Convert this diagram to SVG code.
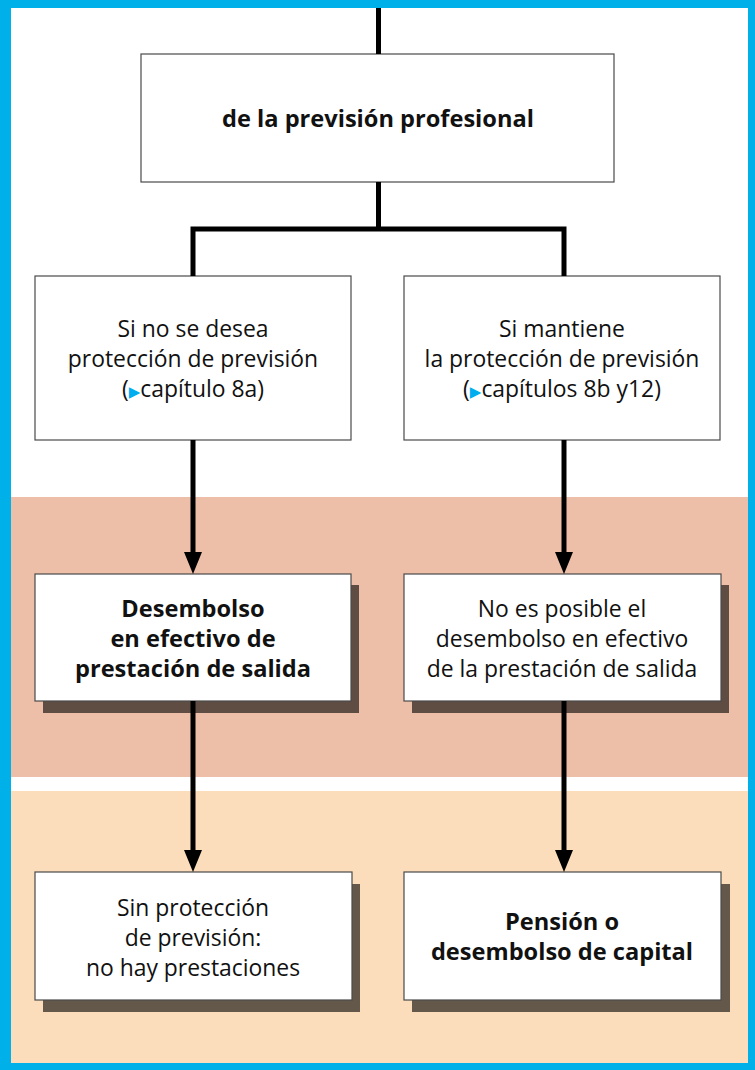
<svg xmlns="http://www.w3.org/2000/svg" width="755" height="1070" viewBox="0 0 755 1070">
<style>
.box{fill:#fff;stroke:#4a4a4a;stroke-width:1.2}
.sh{fill:#000;fill-opacity:0.6}
.t{font-family:"Open Sans","Noto Sans","Liberation Sans",sans-serif;font-size:22.9px;fill:#111;text-anchor:middle}
.b{font-weight:bold;font-size:23.6px}
.con{fill:none;stroke:#000;stroke-width:5;stroke-linejoin:miter}
.tri{fill:#00aeef;font-family:"DejaVu Sans",sans-serif;font-size:15px}
</style>
<defs>
<marker id="ah" markerUnits="userSpaceOnUse" markerWidth="22" markerHeight="18" viewBox="0 0 22 18" refX="14" refY="9" orient="auto">
<path d="M0,0 L22,9 L0,18 z" fill="#000"/>
</marker>
</defs>
<rect x="0" y="0" width="755" height="1070" fill="#fff"/>
<rect x="11" y="497" width="737" height="280" fill="#eebfa8"/>
<rect x="11" y="791" width="737" height="273" fill="#fbddbb"/>
<g id="frame" fill="#00b0e8">
<rect x="0" y="0" width="755" height="8"/>
<rect x="0" y="0" width="11" height="1070"/>
<rect x="748" y="0" width="7" height="1070"/>
<rect x="0" y="1063" width="755" height="7"/>
</g>
<g id="n-top">
<rect class="box" x="141" y="54" width="473" height="128"/>
<text class="t b" x="378" y="127">de la previsión profesional</text>
</g>
<g id="n-left1">
<rect class="box" x="35" y="276" width="316" height="164"/>
<text class="t" x="193" y="337">Si no se desea</text>
<text class="t" x="193" y="367">protección de previsión</text>
<text class="t" x="193" y="397">(<tspan class="tri">▶</tspan>capítulo 8a)</text>
</g>
<g id="n-right1">
<rect class="box" x="404" y="276" width="316" height="164"/>
<text class="t" x="562" y="337">Si mantiene</text>
<text class="t" x="562" y="367">la protección de previsión</text>
<text class="t" x="562" y="397">(<tspan class="tri">▶</tspan>capítulos 8b y12)</text>
</g>
<g id="n-left2">
<rect class="sh" x="43" y="585" width="316" height="128"/>
<rect class="box" x="35" y="574" width="316" height="127"/>
<text class="t b" x="193" y="617">Desembolso</text>
<text class="t b" x="193" y="647">en efectivo de</text>
<text class="t b" x="193" y="677">prestación de salida</text>
</g>
<g id="n-right2">
<rect class="sh" x="412" y="585" width="317" height="128"/>
<rect class="box" x="404" y="574" width="317" height="127"/>
<text class="t" x="562" y="617">No es posible el</text>
<text class="t" x="562" y="647">desembolso en efectivo</text>
<text class="t" x="562" y="677">de la prestación de salida</text>
</g>
<g id="n-left3">
<rect class="sh" x="43" y="884" width="317" height="128"/>
<rect class="box" x="35" y="872" width="317" height="128"/>
<text class="t" x="193" y="916">Sin protección</text>
<text class="t" x="193" y="946">de previsión:</text>
<text class="t" x="193" y="976">no hay prestaciones</text>
</g>
<g id="n-right3">
<rect class="sh" x="412" y="884" width="318" height="128"/>
<rect class="box" x="404" y="872" width="317" height="128"/>
<text class="t b" x="562" y="930">Pensión o</text>
<text class="t b" x="562" y="960">desembolso de capital</text>
</g>
<g id="connectors">
<path class="con" d="M378.5,8 V54"/>
<path class="con" d="M378.5,182 V229"/>
<path class="con" d="M193,276 V229 H564 V276"/>
<path class="con" d="M193,440 V566" marker-end="url(#ah)"/>
<path class="con" d="M564,440 V566" marker-end="url(#ah)"/>
<path class="con" d="M193,701 V864" marker-end="url(#ah)"/>
<path class="con" d="M564,701 V864" marker-end="url(#ah)"/>
</g>
</svg>
